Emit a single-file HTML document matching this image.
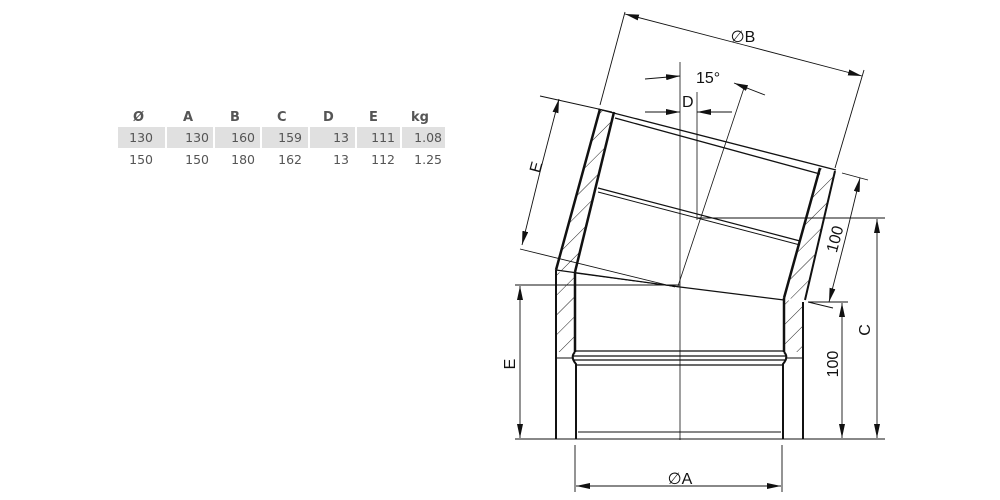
<!DOCTYPE html>
<html><head><meta charset="utf-8"><style>
html,body{margin:0;padding:0;background:#fff;width:1000px;height:500px;overflow:hidden}
svg{position:absolute;left:0;top:0}
.t{font-family:"DejaVu Sans","Liberation Sans",sans-serif;font-size:12.5px;fill:#555}
.h{font-family:"DejaVu Sans","Liberation Sans",sans-serif;font-size:13px;font-weight:bold;fill:#555}
.d{font-family:"Liberation Sans","DejaVu Sans",sans-serif;font-size:16px;fill:#111}
</style></head><body>
<svg width="1000" height="500" viewBox="0 0 1000 500">
<defs>
<marker id="a" markerWidth="14" markerHeight="6" refX="14" refY="3" orient="auto" markerUnits="userSpaceOnUse"><path d="M0,0L14,3L0,6z" fill="#111"/></marker>
<pattern id="hp" width="14" height="14" patternUnits="userSpaceOnUse" patternTransform="rotate(-45)"><line x1="0" y1="0" x2="14" y2="0" stroke="#222" stroke-width="1"/></pattern>
</defs>
<g>
<rect x="118" y="127" width="47" height="21" fill="#e0e0e0"/>
<rect x="167" y="127" width="46" height="21" fill="#e0e0e0"/>
<rect x="215" y="127" width="45" height="21" fill="#e0e0e0"/>
<rect x="262" y="127" width="46" height="21" fill="#e0e0e0"/>
<rect x="310" y="127" width="45" height="21" fill="#e0e0e0"/>
<rect x="357" y="127" width="43" height="21" fill="#e0e0e0"/>
<rect x="402" y="127" width="43" height="21" fill="#e0e0e0"/>
<text class="h" x="133" y="121">Ø</text><text class="h" x="183" y="121">A</text><text class="h" x="230" y="121">B</text><text class="h" x="277" y="121">C</text><text class="h" x="323" y="121">D</text><text class="h" x="369" y="121">E</text><text class="h" x="411" y="121">kg</text>
<g class="t" text-anchor="end">
<text x="153" y="142">130</text><text x="209" y="142">130</text><text x="255" y="142">160</text><text x="302" y="142">159</text><text x="349" y="142">13</text><text x="395" y="142">111</text><text x="442" y="142">1.08</text>
<text x="153" y="164">150</text><text x="209" y="164">150</text><text x="255" y="164">180</text><text x="302" y="164">162</text><text x="349" y="164">13</text><text x="395" y="164">112</text><text x="442" y="164">1.25</text>
</g>
</g>
<polygon points="600,109 614,112 575,272 556,270" fill="url(#hp)"/>
<polygon points="820,168 835,171 805,300 784,298" fill="url(#hp)"/>
<polygon points="556,272 575,274 575,352 556,352" fill="url(#hp)"/>
<polygon points="784,300 803,302 803,352 784,352" fill="url(#hp)"/>
<g stroke="#111" fill="none">
<line x1="680" y1="62" x2="680" y2="440" stroke-width="0.8"/>
<line x1="697" y1="92" x2="697" y2="220" stroke-width="0.8"/>
<line x1="745" y1="85" x2="678" y2="286" stroke-width="0.8"/>
<line x1="515" y1="285" x2="680" y2="285" stroke-width="0.9"/>
<line x1="515" y1="439" x2="885" y2="439" stroke-width="1"/>
<line x1="697" y1="218" x2="885" y2="218" stroke-width="0.9"/>
<line x1="808" y1="302" x2="848" y2="302" stroke-width="0.9"/>
<line x1="600" y1="109" x2="556" y2="270" stroke-width="2.5"/>
<line x1="614" y1="112" x2="575" y2="272" stroke-width="2.5"/>
<line x1="835" y1="171" x2="805" y2="300" stroke-width="2"/>
<line x1="820" y1="168" x2="784" y2="298" stroke-width="2.5"/>
<line x1="598" y1="109" x2="836" y2="170" stroke-width="1.3"/>
<line x1="615" y1="118" x2="820" y2="174" stroke-width="1.3"/>
<line x1="598" y1="188" x2="800" y2="241" stroke-width="1.2"/>
<line x1="598" y1="192" x2="800" y2="245" stroke-width="1"/>
<line x1="556" y1="270" x2="680" y2="287" stroke-width="1.2"/>
<line x1="680" y1="287" x2="784" y2="300" stroke-width="1.2"/>
<line x1="575" y1="273" x2="680" y2="287" stroke-width="1"/>
<line x1="556" y1="270" x2="556" y2="439" stroke-width="2"/>
<line x1="803" y1="302" x2="803" y2="439" stroke-width="2"/>
<line x1="575" y1="272" x2="575" y2="352" stroke-width="2.5"/>
<line x1="784" y1="298" x2="784" y2="352" stroke-width="2.5"/>
<line x1="556" y1="358" x2="572" y2="358" stroke-width="1"/>
<line x1="787" y1="358" x2="803" y2="358" stroke-width="1"/>
<path d="M575,352 Q570,357 576,364 L576,439" stroke-width="2"/>
<path d="M784,352 Q789,357 783,364 L783,439" stroke-width="2"/>
<line x1="575" y1="351" x2="784" y2="351" stroke-width="1.3"/>
<line x1="572" y1="356" x2="787" y2="356" stroke-width="1.3"/>
<line x1="573" y1="360" x2="786" y2="360" stroke-width="1.3"/>
<line x1="576" y1="365" x2="783" y2="365" stroke-width="1.3"/>
<line x1="578" y1="432" x2="781" y2="432" stroke-width="1"/>
<g stroke-width="0.9">
<line x1="600" y1="105" x2="625" y2="12"/><line x1="835" y1="168" x2="864" y2="70"/>
<line x1="744" y1="45" x2="625" y2="14" marker-end="url(#a)"/><line x1="744" y1="45" x2="862" y2="76" marker-end="url(#a)"/>
<line x1="645" y1="79" x2="680" y2="76" marker-end="url(#a)"/>
<line x1="765" y1="95" x2="734" y2="83" marker-end="url(#a)"/>
<line x1="645" y1="112" x2="680" y2="112" marker-end="url(#a)"/>
<line x1="732" y1="112" x2="697" y2="112" marker-end="url(#a)"/>
<line x1="540" y1="96" x2="612" y2="112"/>
<line x1="520" y1="249" x2="675" y2="287"/>
<line x1="540" y1="172" x2="559" y2="99" marker-end="url(#a)"/><line x1="540" y1="172" x2="522" y2="245" marker-end="url(#a)"/>
<line x1="842" y1="173" x2="868" y2="180"/>
<line x1="845" y1="240" x2="860" y2="178" marker-end="url(#a)"/><line x1="845" y1="240" x2="829" y2="302" marker-end="url(#a)"/>
<line x1="808" y1="302" x2="833" y2="308"/>
<line x1="877" y1="330" x2="877" y2="219" marker-end="url(#a)"/><line x1="877" y1="330" x2="877" y2="438" marker-end="url(#a)"/>
<line x1="842" y1="370" x2="842" y2="303" marker-end="url(#a)"/><line x1="842" y1="370" x2="842" y2="438" marker-end="url(#a)"/>
<line x1="520" y1="360" x2="520" y2="286" marker-end="url(#a)"/><line x1="520" y1="360" x2="520" y2="438" marker-end="url(#a)"/>
<line x1="575" y1="445" x2="575" y2="492"/><line x1="782" y1="445" x2="782" y2="492"/>
<line x1="680" y1="486" x2="576" y2="486" marker-end="url(#a)"/><line x1="680" y1="486" x2="781" y2="486" marker-end="url(#a)"/>
</g>
</g>
<text class="d" x="743" y="42" text-anchor="middle">∅B</text>
<text class="d" x="696" y="83">15°</text>
<text class="d" x="682" y="107">D</text>
<text class="d" x="540" y="177" text-anchor="middle" transform="rotate(-75 535 172)">E</text>
<text class="d" x="839" y="249" text-anchor="middle" transform="rotate(-75 834 244)">100</text>
<text class="d" x="869" y="341" text-anchor="middle" transform="rotate(-90 864 335)">C</text>
<text class="d" x="838" y="374" text-anchor="middle" transform="rotate(-90 833 369)">100</text>
<text class="d" x="515" y="374" text-anchor="middle" transform="rotate(-90 510 369)">E</text>
<text class="d" x="680" y="484" text-anchor="middle">∅A</text>
</svg>
</body></html>
